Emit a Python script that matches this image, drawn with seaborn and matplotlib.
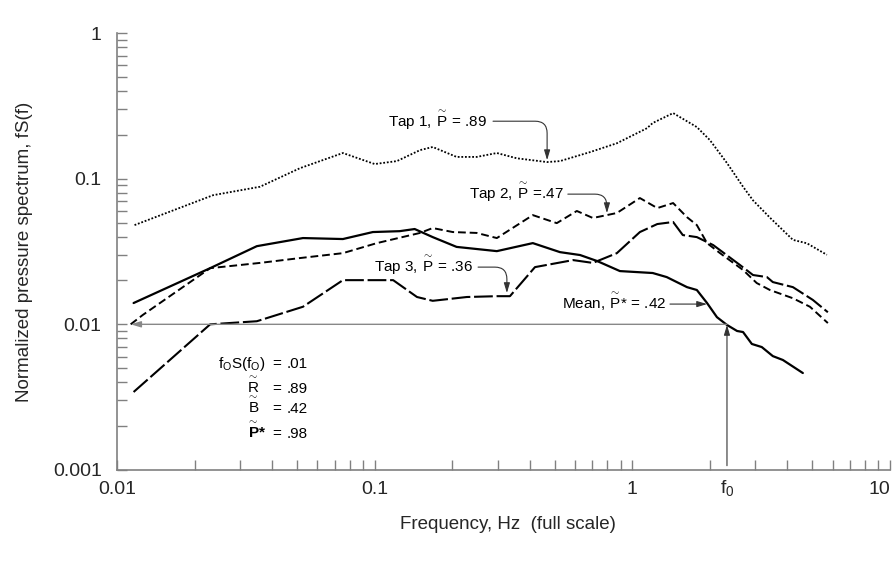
import numpy as np
import pandas as pd
import matplotlib
matplotlib.use("Agg")
import matplotlib.pyplot as plt
import seaborn as sns
from matplotlib.ticker import LogLocator, NullFormatter

# Spectra: frequency (Hz, full scale) and fS(f)
tap1_freq = [0.0117, 0.0236, 0.0359, 0.0513, 0.0753, 0.100, 0.122, 0.150, 0.168, 0.208,
             0.249, 0.298, 0.356, 0.467, 0.524, 0.684, 0.871, 1.14, 1.20, 1.44,
             1.78, 2.00, 2.33, 2.69, 2.94, 3.42, 4.20, 4.76, 5.69]
tap1_fs = [0.048, 0.077, 0.088, 0.118, 0.150, 0.126, 0.132, 0.157, 0.165, 0.141,
           0.141, 0.150, 0.138, 0.130, 0.132, 0.152, 0.175, 0.222, 0.241, 0.282,
           0.226, 0.184, 0.128, 0.088, 0.071, 0.054, 0.038, 0.036, 0.030]

tap2_freq = [0.0113, 0.0126, 0.0230, 0.0359, 0.0513, 0.0753, 0.102, 0.150, 0.168, 0.201,
             0.249, 0.298, 0.411, 0.509, 0.609, 0.703, 0.871, 1.07, 1.25, 1.44,
             1.63, 1.78, 1.95, 2.19, 2.69, 3.04, 3.42, 4.20, 4.89, 5.74]
tap2_fs = [0.0100, 0.0116, 0.0243, 0.0264, 0.0285, 0.0308, 0.0361, 0.0424, 0.0458, 0.0430,
           0.0424, 0.0391, 0.0562, 0.0495, 0.0600, 0.0537, 0.0581, 0.0736, 0.0628, 0.0680,
           0.0544, 0.0480, 0.0361, 0.0308, 0.0236, 0.0192, 0.0172, 0.0151, 0.0132, 0.0102]

tap3_freq = [0.0116, 0.0230, 0.0349, 0.0527, 0.0753, 0.118, 0.146, 0.168, 0.228, 0.298,
             0.335, 0.419, 0.589, 0.703, 0.871, 1.07, 1.25, 1.44, 1.57, 1.78,
             2.06, 2.62, 2.94, 3.33, 3.51, 4.20, 5.02, 5.74]
tap3_fs = [0.00343, 0.0100, 0.0105, 0.0132, 0.0201, 0.0201, 0.0154, 0.0145, 0.0154, 0.0156,
           0.0156, 0.0247, 0.0276, 0.0264, 0.0308, 0.0430, 0.0488, 0.0504, 0.0410, 0.0397,
           0.0350, 0.0255, 0.0218, 0.0211, 0.0195, 0.0180, 0.0147, 0.0121]

mean_freq = [0.0116, 0.0230, 0.0349, 0.0527, 0.0753, 0.0984, 0.125, 0.143, 0.168, 0.208,
             0.298, 0.411, 0.524, 0.627, 0.730, 0.895, 1.20, 1.36, 1.63, 1.78,
             1.95, 2.13, 2.33, 2.55, 2.69, 2.91, 3.18, 3.51, 3.84, 4.59]
mean_fs = [0.0140, 0.0243, 0.0344, 0.0391, 0.0385, 0.0430, 0.0436, 0.0451, 0.0397, 0.0340,
           0.0318, 0.0361, 0.0313, 0.0299, 0.0272, 0.0232, 0.0225, 0.0211, 0.0180, 0.0172,
           0.0140, 0.0112, 0.0099, 0.0090, 0.00885, 0.00733, 0.00698, 0.00605, 0.00569, 0.00463]

f0 = 2.33
f0_level = 0.01

x_ticks = [0.01, 0.1, 1, 10]
x_ticklabels = ["0.01", "0.1", "1", "10"]
y_ticks = [0.001, 0.01, 0.1, 1]
y_ticklabels = ["0.001", "0.01", "0.1", "1"]

# ---------------------------
# Style
# ---------------------------
sns.set_style("ticks")
plt.rcParams["font.family"] = ["Liberation Sans", "DejaVu Sans"]
plt.rcParams["mathtext.fontset"] = "custom"
plt.rcParams["mathtext.rm"] = "Liberation Sans"
plt.rcParams["mathtext.it"] = "Liberation Sans:italic"
plt.rcParams["mathtext.bf"] = "Liberation Sans:bold"

P_T = r"$\overset{\sim}{\mathrm{P}}$"   # P with tilde
R_T = r"$\overset{\sim}{\mathrm{R}}$"
B_T = r"$\overset{\sim}{\mathrm{B}}$"
PB_T = r"$\overset{\sim}{\mathbf{P}}$"

fig = plt.figure(figsize=(8.95, 5.8), dpi=100)
ax = fig.add_axes([0.1307, 0.1897, 0.8637, 0.7534])

spectra = {
    "tap1": (tap1_freq, tap1_fs, (0, (1, 1)), 1.3),
    "tap2": (tap2_freq, tap2_fs, (0, (4, 2)), 1.4),
    "tap3": (tap3_freq, tap3_fs, (0, (9, 1.8)), 1.5),
    "mean": (mean_freq, mean_fs, "-", 1.6),
}
for name, (fq, fs, ls, lw) in spectra.items():
    df = pd.DataFrame({"freq": fq, "fs": fs})
    sns.lineplot(data=df, x="freq", y="fs", ax=ax, color="black", linestyle=ls,
                 linewidth=lw, estimator=None, sort=False)

ax.set_xscale("log")
ax.set_yscale("log")
ax.set_xlim(0.01, 10)
ax.set_ylim(0.001, 1)
ax.set_xticks(x_ticks, x_ticklabels)
ax.set_yticks(y_ticks, y_ticklabels)
ax.xaxis.set_minor_locator(LogLocator(base=10, subs=np.arange(2, 10)))
ax.yaxis.set_minor_locator(LogLocator(base=10, subs=np.arange(2, 10)))
ax.xaxis.set_minor_formatter(NullFormatter())
ax.yaxis.set_minor_formatter(NullFormatter())
ax.tick_params(which="both", direction="in", length=7, width=1, color="#808080",
               labelsize=14)
ax.tick_params(axis="x", pad=8)
ax.tick_params(axis="y", pad=11)
ax.get_xticklabels()[-1].set_horizontalalignment("right")

sns.despine(ax=ax)
for side in ["left", "bottom"]:
    ax.spines[side].set_color("#808080")
    ax.spines[side].set_linewidth(1.2)

ax.set_xlabel("Frequency, Hz  (full scale)", fontsize=13.5)
ax.set_ylabel("Normalized pressure spectrum, fS(f)", fontsize=13.5)
ax.xaxis.set_label_coords(0.506, -0.105)
ax.yaxis.set_label_coords(-0.108, 0.5)

# ---------------------------
# Annotations
# ---------------------------
lbl = dict(fontsize=11, color="black")
curve = dict(arrowstyle="-|>,head_length=0.6,head_width=0.18", color="#333333", lw=0.8,
             shrinkA=0, shrinkB=0, connectionstyle="angle,angleA=0,angleB=90,rad=12")

ax.text(0.273, 0.226, "Tap 1, " + P_T + " = .89", ha="right", va="baseline", **lbl)
ax.annotate("", xy=(0.467, 0.134), xytext=(0.288, 0.248), arrowprops=curve)

ax.text(0.543, 0.0724, "Tap 2, " + P_T + " =.47", ha="right", va="baseline", **lbl)
ax.annotate("", xy=(0.797, 0.058), xytext=(0.562, 0.0783), arrowprops=curve)

ax.text(0.2407, 0.0229, "Tap 3, " + P_T + " = .36", ha="right", va="baseline", **lbl)
ax.annotate("", xy=(0.326, 0.0164), xytext=(0.252, 0.0247), arrowprops=curve)

ax.text(1.36, 0.01274, "Mean, " + P_T + "* = .42", ha="right", va="baseline", **lbl)
ax.annotate("", xy=(1.95, 0.01377), xytext=(1.40, 0.01377),
            arrowprops=dict(arrowstyle="-|>,head_length=0.6,head_width=0.18",
                            color="#333333", lw=0.8, shrinkA=0, shrinkB=0))

# f0 construction lines
ax.annotate("", xy=(0.0113, f0_level), xytext=(f0, f0_level),
            arrowprops=dict(arrowstyle="-|>,head_length=0.6,head_width=0.18",
                            color="#888888", lw=1.0, shrinkA=0, shrinkB=0))
ax.annotate("", xy=(f0, 0.0099), xytext=(f0, 0.00107),
            arrowprops=dict(arrowstyle="-|>,head_length=0.6,head_width=0.18",
                            color="#333333", lw=0.8, shrinkA=0, shrinkB=0))
ax.text(f0, -0.041, r"f$_0$", transform=ax.get_xaxis_transform(), ha="center",
        va="center", fontsize=14)

# summary block (baselines)
rows_y = [0.2334, 0.1762, 0.1304, 0.0732]
blk = dict(transform=ax.transAxes, ha="left", va="baseline", **lbl)
ax.text(0.1307, rows_y[0], r"f$_\mathrm{O}$S(f$_\mathrm{O}$)", **blk)
ax.text(0.1682, rows_y[1], R_T, **blk)
ax.text(0.1682, rows_y[2], B_T, **blk)
ax.text(0.1682, rows_y[3], PB_T + "*", fontweight="bold", **blk)
for y, val in zip(rows_y, [".01", ".89", ".42", ".98"]):
    ax.text(0.2005, y, "=", **blk)
    ax.text(0.2199, y, val, **blk)

fig.savefig("out.png", dpi=100)
plt.close(fig)
